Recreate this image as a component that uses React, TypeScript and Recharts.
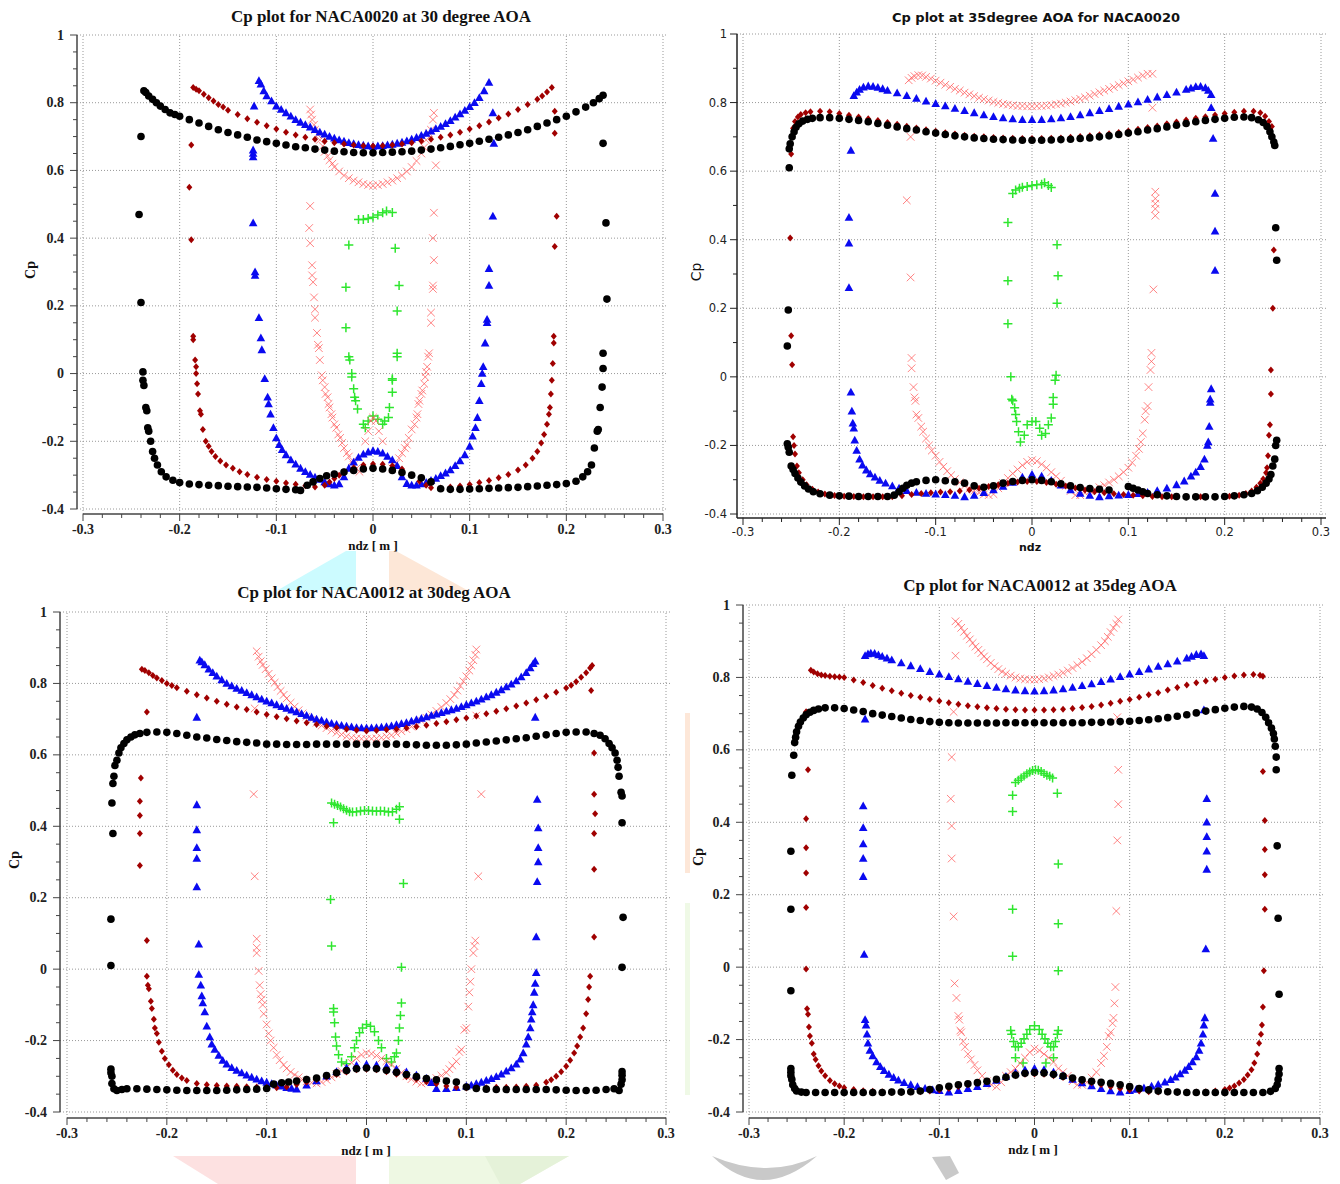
import { ScatterChart, Scatter, XAxis, YAxis, ReferenceLine } from 'recharts';

const SERIF = '"Liberation Serif", "Times New Roman", serif';
const SANS = '"DejaVu Sans", Verdana, sans-serif';

// shared axis ticks
const xTicks = [-0.3, -0.28, -0.26, -0.24, -0.22, -0.2, -0.18, -0.16, -0.14, -0.12, -0.1, -0.08, -0.06, -0.04, -0.02, 0, 0.02, 0.04, 0.06, 0.08, 0.1, 0.12, 0.14, 0.16, 0.18, 0.2, 0.22, 0.24, 0.26, 0.28, 0.3];
const yTicksFine = [-0.4, -0.35, -0.3, -0.25, -0.2, -0.15, -0.1, -0.05, 0, 0.05, 0.1, 0.15, 0.2, 0.25, 0.3, 0.35, 0.4, 0.45, 0.5, 0.55, 0.6, 0.65, 0.7, 0.75, 0.8, 0.85, 0.9, 0.95, 1];
const yTicksCoarse = [-0.4, -0.3, -0.2, -0.1, 0, 0.1, 0.2, 0.3, 0.4, 0.5, 0.6, 0.7, 0.8, 0.9, 1];
const xGrid = [-0.3, -0.2, -0.1, 0, 0.1, 0.2, 0.3];
const yGrid = [-0.4, -0.2, 0, 0.2, 0.4, 0.6, 0.8, 1];

// ---------- NACA0020, 30 deg (x, y pairs) ----------
const n20a30Black = [
  -0.237, 0.835, -0.235, 0.83, -0.232, 0.82, -0.228, 0.81, -0.224, 0.8, -0.22, 0.79, -0.215, 0.78, -0.21, 0.77, -0.205, 0.765, -0.2, 0.76, -0.19, 0.75, -0.18, 0.74, -0.17, 0.73, -0.16, 0.72, -0.15, 0.712, -0.14, 0.705, -0.13, 0.698, -0.12, 0.69, -0.11, 0.685, -0.1, 0.68, -0.09, 0.675, -0.08, 0.67, -0.07, 0.667, -0.06, 0.663, -0.05, 0.66, -0.04, 0.657, -0.03, 0.655, -0.02, 0.653, -0.01, 0.652, 0, 0.652, 0.01, 0.653, 0.02, 0.654, 0.03, 0.655, 0.04, 0.657, 0.05, 0.66, 0.06, 0.663, 0.07, 0.667, 0.08, 0.671, 0.09, 0.676, 0.1, 0.68, 0.11, 0.686, 0.12, 0.692, 0.13, 0.698, 0.14, 0.705, 0.15, 0.712, 0.16, 0.72, 0.17, 0.73, 0.18, 0.74, 0.19, 0.75, 0.2, 0.76, 0.21, 0.773, 0.22, 0.787, 0.228, 0.8, 0.234, 0.812, 0.238, 0.822,
  -0.24, 0.7, -0.242, 0.47, -0.24, 0.21, -0.238, 0.005, -0.238, -0.02, -0.237, -0.035, -0.235, -0.1, -0.234, -0.11, -0.233, -0.16, -0.232, -0.17, -0.23, -0.2, -0.228, -0.23, -0.226, -0.25, -0.223, -0.27, -0.219, -0.29, -0.214, -0.305, -0.207, -0.315, -0.2, -0.322, -0.19, -0.326, -0.18, -0.328, -0.17, -0.33, -0.16, -0.331, -0.15, -0.333, -0.14, -0.334, -0.13, -0.335, -0.12, -0.336, -0.11, -0.338, -0.1, -0.34, -0.09, -0.342, -0.08, -0.343, -0.075, -0.345,
  -0.068, -0.33, -0.062, -0.32, -0.055, -0.31, -0.048, -0.302, -0.04, -0.297, -0.03, -0.291, -0.02, -0.286, -0.01, -0.282, 0, -0.28, 0.01, -0.282, 0.02, -0.286, 0.03, -0.292, 0.04, -0.3, 0.05, -0.308, 0.06, -0.32,
  0.07, -0.34, 0.08, -0.342, 0.09, -0.342, 0.1, -0.341, 0.11, -0.34, 0.12, -0.339, 0.13, -0.338, 0.14, -0.337, 0.15, -0.336, 0.16, -0.334, 0.17, -0.332, 0.18, -0.33, 0.19, -0.328, 0.2, -0.325, 0.21, -0.318, 0.217, -0.305, 0.222, -0.29, 0.226, -0.27, 0.229, -0.22, 0.232, -0.17, 0.233, -0.165, 0.235, -0.1, 0.237, -0.04, 0.238, 0.015, 0.238, 0.06, 0.242, 0.22, 0.241, 0.445, 0.238, 0.68,
];
const n20a30Red = [
  -0.186, 0.845, -0.183, 0.84, -0.18, 0.835, -0.175, 0.825, -0.17, 0.815, -0.165, 0.805, -0.16, 0.795, -0.155, 0.787, -0.15, 0.778, -0.14, 0.765, -0.13, 0.753, -0.12, 0.742, -0.11, 0.732, -0.1, 0.722, -0.09, 0.713, -0.08, 0.705, -0.07, 0.698, -0.06, 0.692, -0.05, 0.686, -0.04, 0.682, -0.03, 0.678, -0.02, 0.675, -0.01, 0.673, 0, 0.672, 0.01, 0.673, 0.02, 0.675, 0.03, 0.678, 0.04, 0.682, 0.05, 0.687, 0.06, 0.692, 0.07, 0.698, 0.08, 0.705, 0.09, 0.713, 0.1, 0.722, 0.11, 0.732, 0.12, 0.743, 0.13, 0.755, 0.14, 0.767, 0.15, 0.78, 0.16, 0.795, 0.17, 0.81, 0.175, 0.82, 0.18, 0.832, 0.185, 0.845,
  -0.188, 0.675, -0.19, 0.55, -0.188, 0.395, -0.186, 0.11, -0.186, 0.1, -0.184, 0.04, -0.183, 0.02, -0.183, 0, -0.182, -0.03, -0.181, -0.06, -0.179, -0.11, -0.178, -0.12, -0.176, -0.165, -0.173, -0.2, -0.17, -0.215, -0.167, -0.23, -0.163, -0.245, -0.158, -0.258, -0.152, -0.27, -0.145, -0.28, -0.138, -0.29, -0.13, -0.298, -0.12, -0.306, -0.11, -0.313, -0.1, -0.318, -0.09, -0.323, -0.08, -0.327, -0.07, -0.331, -0.06, -0.335, -0.05, -0.33,
  -0.045, -0.32, -0.04, -0.31, -0.035, -0.3, -0.03, -0.29, -0.02, -0.278, -0.01, -0.27, 0, -0.267, 0.01, -0.268, 0.02, -0.272, 0.03, -0.282, 0.04, -0.3, 0.048, -0.318, 0.055, -0.33, 0.06, -0.337,
  0.07, -0.338, 0.08, -0.335, 0.09, -0.332, 0.1, -0.328, 0.11, -0.322, 0.12, -0.316, 0.13, -0.308, 0.14, -0.298, 0.15, -0.285, 0.158, -0.27, 0.165, -0.25, 0.17, -0.23, 0.174, -0.205, 0.177, -0.18, 0.18, -0.15, 0.182, -0.12, 0.183, -0.1, 0.184, -0.06, 0.185, -0.02, 0.186, 0.03, 0.187, 0.09, 0.187, 0.11, 0.188, 0.375, 0.19, 0.465, 0.188, 0.71, 0.188, 0.775,
];
const n20a30Blue = [
  -0.118, 0.865, -0.116, 0.855, -0.113, 0.835, -0.11, 0.82, -0.105, 0.805, -0.1, 0.79, -0.095, 0.78, -0.09, 0.77, -0.085, 0.76, -0.08, 0.75, -0.075, 0.742, -0.07, 0.735, -0.065, 0.728, -0.06, 0.72, -0.055, 0.713, -0.05, 0.707, -0.045, 0.7, -0.04, 0.695, -0.035, 0.69, -0.03, 0.686, -0.025, 0.682, -0.02, 0.679, -0.015, 0.676, -0.01, 0.674, -0.005, 0.672, 0, 0.671, 0.005, 0.672, 0.01, 0.673, 0.015, 0.675, 0.02, 0.677, 0.025, 0.68, 0.03, 0.683, 0.035, 0.687, 0.04, 0.692, 0.045, 0.697, 0.05, 0.703, 0.055, 0.709, 0.06, 0.716, 0.065, 0.723, 0.07, 0.73, 0.075, 0.738, 0.08, 0.747, 0.085, 0.757, 0.09, 0.767, 0.095, 0.777, 0.1, 0.788, 0.105, 0.8, 0.11, 0.815, 0.115, 0.835, 0.12, 0.86,
  -0.123, 0.79, -0.124, 0.66, -0.124, 0.65, -0.124, 0.64, -0.124, 0.445, -0.122, 0.3, -0.122, 0.29, -0.118, 0.165, -0.116, 0.105, -0.115, 0.07, -0.112, -0.015, -0.109, -0.07, -0.108, -0.09, -0.106, -0.12, -0.103, -0.16, -0.1, -0.19, -0.097, -0.21, -0.094, -0.225, -0.09, -0.24, -0.085, -0.255, -0.08, -0.268, -0.075, -0.28, -0.07, -0.29, -0.065, -0.298, -0.06, -0.306, -0.055, -0.313, -0.05, -0.32, -0.045, -0.326, -0.04, -0.33, -0.035, -0.326,
  -0.03, -0.305, -0.025, -0.28, -0.02, -0.262, -0.015, -0.248, -0.01, -0.238, -0.005, -0.232, 0, -0.228, 0.005, -0.23, 0.01, -0.235, 0.015, -0.245, 0.02, -0.255, 0.025, -0.272, 0.03, -0.305, 0.035, -0.325, 0.04, -0.33, 0.045, -0.33, 0.05, -0.326,
  0.055, -0.322, 0.06, -0.316, 0.065, -0.31, 0.07, -0.302, 0.075, -0.294, 0.08, -0.285, 0.085, -0.272, 0.09, -0.258, 0.095, -0.24, 0.1, -0.215, 0.103, -0.185, 0.106, -0.16, 0.108, -0.13, 0.11, -0.08, 0.112, -0.03, 0.113, 0, 0.114, 0.02, 0.116, 0.09, 0.118, 0.15, 0.118, 0.16, 0.12, 0.26, 0.12, 0.31, 0.124, 0.465, 0.125, 0.68, 0.124, 0.77,
];
const n20a30Cross = [
  -0.065, 0.78, -0.064, 0.765, -0.063, 0.75, -0.061, 0.735, -0.06, 0.72, -0.057, 0.705, -0.055, 0.69, -0.052, 0.672, -0.05, 0.655, -0.047, 0.642, -0.045, 0.63, -0.042, 0.62, -0.04, 0.61, -0.035, 0.597, -0.03, 0.585, -0.025, 0.577, -0.02, 0.57, -0.015, 0.565, -0.01, 0.56, -0.005, 0.557, 0, 0.555, 0.005, 0.557, 0.01, 0.56, 0.015, 0.565, 0.02, 0.57, 0.025, 0.577, 0.03, 0.585, 0.035, 0.597, 0.04, 0.61, 0.045, 0.628, 0.05, 0.65, 0.053, 0.668, 0.055, 0.69, 0.058, 0.71, 0.06, 0.72, 0.062, 0.75, 0.063, 0.77, 0.065, 0.615,
  -0.065, 0.495, -0.066, 0.43, -0.065, 0.385, -0.063, 0.32, -0.063, 0.29, -0.062, 0.27, -0.061, 0.225, -0.06, 0.19, -0.06, 0.165, -0.058, 0.12, -0.057, 0.085, -0.056, 0.075, -0.055, 0.04, -0.053, -0.005, -0.052, -0.02, -0.05, -0.04, -0.049, -0.06, -0.047, -0.07, -0.046, -0.09, -0.045, -0.1, -0.043, -0.12, -0.042, -0.13, -0.04, -0.15, -0.038, -0.16, -0.036, -0.18, -0.034, -0.19, -0.032, -0.205, -0.03, -0.22, -0.027, -0.235, -0.025, -0.245, -0.022, -0.26, -0.02, -0.27, -0.017, -0.28, -0.014, -0.29,
  -0.008, -0.2, -0.005, -0.17, -0.002, -0.14, 0, -0.13, 0.003, -0.14, 0.006, -0.17, 0.01, -0.2,
  0.063, 0.475, 0.062, 0.4, 0.063, 0.335, 0.062, 0.26, 0.062, 0.25, 0.06, 0.18, 0.06, 0.15, 0.058, 0.06, 0.057, 0.05, 0.056, 0.02, 0.055, 0.005, 0.054, -0.01, 0.053, -0.03, 0.051, -0.05, 0.05, -0.06, 0.048, -0.08, 0.047, -0.09, 0.046, -0.12, 0.045, -0.13, 0.043, -0.15, 0.04, -0.165, 0.037, -0.19, 0.035, -0.21, 0.033, -0.22, 0.03, -0.235, 0.027, -0.25, 0.024, -0.265, 0.02, -0.28,
];
const n20a30Plus = [
  -0.015, 0.455, -0.01, 0.455, -0.005, 0.458, 0, 0.462, 0.005, 0.468, 0.01, 0.475, 0.014, 0.48, 0.02, 0.476, -0.025, 0.38, 0.023, 0.37, -0.028, 0.255, 0.027, 0.26, -0.028, 0.135, 0.025, 0.185, -0.025, 0.05, -0.024, 0.04, 0.025, 0.06, 0.025, 0.05, -0.022, 0, -0.022, -0.01, 0.02, -0.015, 0.02, -0.02, -0.02, -0.045, -0.019, -0.07, -0.018, -0.08, 0.02, -0.055, -0.016, -0.105, 0.017, -0.1, 0.016, -0.13, -0.01, -0.15, -0.008, -0.16, -0.005, -0.14, 0, -0.125, 0.005, -0.135, 0.01, -0.15, 0.012, -0.14,
];

// ---------- NACA0020, 35 deg ----------
const n20a35Black = [
  -0.252, 0.665, -0.251, 0.68, -0.249, 0.7, -0.247, 0.715, -0.245, 0.728, -0.242, 0.738, -0.238, 0.746, -0.233, 0.751, -0.228, 0.754, -0.22, 0.756, -0.21, 0.756, -0.2, 0.754, -0.19, 0.751, -0.18, 0.748, -0.17, 0.744, -0.16, 0.739, -0.15, 0.734, -0.14, 0.729, -0.13, 0.724, -0.12, 0.72, -0.11, 0.715, -0.1, 0.711, -0.09, 0.707, -0.08, 0.703, -0.07, 0.7, -0.06, 0.697, -0.05, 0.695, -0.04, 0.693, -0.03, 0.692, -0.02, 0.691, -0.01, 0.69, 0, 0.69, 0.01, 0.69, 0.02, 0.691, 0.03, 0.692, 0.04, 0.693, 0.05, 0.695, 0.06, 0.697, 0.07, 0.7, 0.08, 0.703, 0.09, 0.707, 0.1, 0.711, 0.11, 0.715, 0.12, 0.72, 0.13, 0.724, 0.14, 0.729, 0.15, 0.734, 0.16, 0.739, 0.17, 0.744, 0.18, 0.748, 0.19, 0.751, 0.2, 0.754, 0.21, 0.757, 0.22, 0.758, 0.228, 0.756, 0.235, 0.75, 0.24, 0.742, 0.244, 0.73, 0.247, 0.715, 0.249, 0.7, 0.251, 0.685, 0.252, 0.675,
  -0.252, 0.61, -0.253, 0.195, -0.254, 0.09, -0.254, -0.195, -0.253, -0.205, -0.252, -0.22, -0.25, -0.26, -0.248, -0.27, -0.246, -0.282, -0.243, -0.295, -0.24, -0.307, -0.236, -0.318, -0.232, -0.327, -0.227, -0.335, -0.22, -0.341, -0.21, -0.345, -0.2, -0.347, -0.19, -0.348, -0.18, -0.349, -0.17, -0.349, -0.16, -0.349, -0.15, -0.349, -0.143, -0.345,
  -0.138, -0.335, -0.134, -0.325, -0.13, -0.316, -0.125, -0.31, -0.12, -0.306, -0.11, -0.302, -0.1, -0.3, -0.09, -0.303, -0.08, -0.306, -0.07, -0.31, -0.06, -0.318, -0.05, -0.322, -0.04, -0.318, -0.03, -0.31, -0.02, -0.305, -0.01, -0.302, 0, -0.3, 0.01, -0.302, 0.02, -0.306, 0.03, -0.312, 0.04, -0.318, 0.05, -0.323, 0.06, -0.326, 0.07, -0.328, 0.08, -0.33, 0.1, -0.32, 0.105, -0.325, 0.11, -0.33, 0.115, -0.335, 0.12, -0.34, 0.13, -0.344, 0.14, -0.347, 0.15, -0.349, 0.16, -0.35, 0.17, -0.35, 0.18, -0.35, 0.19, -0.35, 0.2, -0.349, 0.21, -0.347, 0.22, -0.344, 0.228, -0.34, 0.234, -0.332, 0.239, -0.322, 0.243, -0.31, 0.246, -0.298, 0.248, -0.285, 0.25, -0.26, 0.252, -0.24, 0.253, -0.2, 0.254, -0.185, 0.254, 0.34, 0.253, 0.435,
];
const n20a35Red = [
  -0.248, 0.725, -0.246, 0.745, -0.243, 0.758, -0.24, 0.765, -0.235, 0.77, -0.23, 0.773, -0.22, 0.775, -0.21, 0.773, -0.2, 0.768, -0.19, 0.763, -0.18, 0.758, -0.17, 0.753, -0.16, 0.748, -0.15, 0.742, -0.14, 0.737, -0.13, 0.731, -0.12, 0.726, -0.11, 0.721, -0.1, 0.716, -0.09, 0.712, -0.08, 0.708, -0.07, 0.705, -0.06, 0.702, -0.05, 0.7, -0.04, 0.698, -0.03, 0.697, -0.02, 0.696, -0.01, 0.695, 0, 0.695, 0.01, 0.695, 0.02, 0.696, 0.03, 0.697, 0.04, 0.699, 0.05, 0.701, 0.06, 0.703, 0.07, 0.706, 0.08, 0.709, 0.09, 0.713, 0.1, 0.717, 0.11, 0.722, 0.12, 0.727, 0.13, 0.732, 0.14, 0.738, 0.15, 0.743, 0.16, 0.749, 0.17, 0.754, 0.18, 0.759, 0.19, 0.764, 0.2, 0.768, 0.21, 0.772, 0.22, 0.775, 0.23, 0.775, 0.237, 0.77, 0.242, 0.76, 0.246, 0.745, 0.249, 0.73,
  -0.25, 0.65, -0.251, 0.405, -0.25, 0.12, -0.249, 0.035, -0.248, -0.175, -0.247, -0.2, -0.246, -0.225, -0.244, -0.26, -0.242, -0.28, -0.238, -0.3, -0.234, -0.315, -0.228, -0.328, -0.222, -0.336, -0.215, -0.342, -0.205, -0.346, -0.195, -0.348, -0.185, -0.349, -0.175, -0.35, -0.165, -0.35, -0.155, -0.35, -0.145, -0.35, -0.135, -0.347, -0.125, -0.343, -0.115, -0.34, -0.105, -0.338, -0.095, -0.336, -0.085, -0.335, -0.075, -0.333, -0.065, -0.33, -0.055, -0.325, -0.045, -0.32, -0.035, -0.315, -0.025, -0.31, -0.015, -0.307, -0.005, -0.305, 0.005, -0.305, 0.015, -0.308, 0.025, -0.313, 0.035, -0.318, 0.045, -0.324, 0.055, -0.33, 0.065, -0.335, 0.075, -0.338, 0.085, -0.341, 0.095, -0.343, 0.105, -0.345, 0.115, -0.347, 0.125, -0.349, 0.135, -0.35, 0.145, -0.35, 0.16, -0.35, 0.175, -0.35, 0.19, -0.35, 0.205, -0.348, 0.215, -0.345, 0.222, -0.34, 0.228, -0.333, 0.233, -0.322, 0.237, -0.31, 0.24, -0.298, 0.243, -0.28, 0.244, -0.265, 0.245, -0.23, 0.246, -0.17, 0.247, -0.14, 0.248, -0.05, 0.248, 0.02, 0.25, 0.2, 0.251, 0.37,
];
const n20a35Blue = [
  -0.185, 0.82, -0.182, 0.83, -0.179, 0.838, -0.175, 0.845, -0.17, 0.848, -0.165, 0.847, -0.16, 0.844, -0.155, 0.84, -0.15, 0.835, -0.14, 0.828, -0.13, 0.82, -0.12, 0.812, -0.11, 0.804, -0.1, 0.797, -0.09, 0.79, -0.08, 0.783, -0.07, 0.776, -0.06, 0.77, -0.05, 0.764, -0.04, 0.759, -0.03, 0.755, -0.02, 0.752, -0.01, 0.75, 0, 0.75, 0.01, 0.75, 0.02, 0.752, 0.03, 0.755, 0.04, 0.759, 0.05, 0.764, 0.06, 0.77, 0.07, 0.776, 0.08, 0.782, 0.09, 0.789, 0.1, 0.795, 0.11, 0.802, 0.12, 0.809, 0.13, 0.816, 0.14, 0.823, 0.15, 0.83, 0.16, 0.838, 0.165, 0.842, 0.17, 0.846, 0.175, 0.847, 0.18, 0.843, 0.183, 0.835, 0.186, 0.823,
  -0.188, 0.66, -0.19, 0.465, -0.19, 0.39, -0.19, 0.26, -0.188, -0.045, -0.187, -0.1, -0.186, -0.135, -0.185, -0.15, -0.184, -0.185, -0.182, -0.215, -0.179, -0.24, -0.176, -0.258, -0.172, -0.272, -0.168, -0.283, -0.163, -0.293, -0.158, -0.302, -0.152, -0.31, -0.145, -0.318, -0.138, -0.325, -0.13, -0.332, -0.12, -0.337, -0.11, -0.34, -0.1, -0.342, -0.09, -0.344, -0.08, -0.346, -0.07, -0.35, -0.06, -0.346, -0.05, -0.338, -0.04, -0.33, -0.03, -0.32, -0.02, -0.308, -0.01, -0.293, 0, -0.285, 0.01, -0.29, 0.02, -0.302, 0.03, -0.316, 0.04, -0.33, 0.05, -0.34, 0.06, -0.346, 0.07, -0.35, 0.08, -0.347, 0.09, -0.345, 0.1, -0.344, 0.11, -0.341, 0.12, -0.337, 0.13, -0.332, 0.14, -0.325, 0.15, -0.315, 0.158, -0.304, 0.165, -0.29, 0.17, -0.278, 0.175, -0.262, 0.179, -0.24, 0.182, -0.2, 0.183, -0.19, 0.184, -0.145, 0.185, -0.075, 0.185, -0.065, 0.186, -0.035, 0.19, 0.31, 0.19, 0.425, 0.19, 0.535, 0.188, 0.695, 0.186, 0.785,
];
const n20a35Cross = [
  -0.128, 0.865, -0.125, 0.872, -0.122, 0.877, -0.118, 0.88, -0.114, 0.879, -0.11, 0.875, -0.105, 0.87, -0.1, 0.864, -0.095, 0.858, -0.09, 0.852, -0.085, 0.846, -0.08, 0.84, -0.075, 0.835, -0.07, 0.829, -0.065, 0.824, -0.06, 0.819, -0.055, 0.814, -0.05, 0.81, -0.045, 0.806, -0.04, 0.802, -0.035, 0.799, -0.03, 0.796, -0.025, 0.794, -0.02, 0.792, -0.015, 0.79, -0.01, 0.79, -0.005, 0.789, 0, 0.789, 0.005, 0.79, 0.01, 0.79, 0.015, 0.791, 0.02, 0.793, 0.025, 0.795, 0.03, 0.797, 0.035, 0.8, 0.04, 0.803, 0.045, 0.807, 0.05, 0.811, 0.055, 0.815, 0.06, 0.82, 0.065, 0.825, 0.07, 0.83, 0.075, 0.835, 0.08, 0.84, 0.085, 0.845, 0.09, 0.851, 0.095, 0.856, 0.1, 0.862, 0.105, 0.867, 0.11, 0.873, 0.115, 0.879, 0.12, 0.884, 0.125, 0.884,
  0.125, 0.785, -0.126, 0.7, -0.13, 0.515, -0.126, 0.29, 0.128, 0.47, 0.128, 0.49, 0.128, 0.505, 0.128, 0.52, 0.128, 0.54, 0.126, 0.255,
  -0.125, 0.055, -0.125, 0.025, -0.123, -0.03, -0.122, -0.06, -0.121, -0.07, -0.12, -0.11, -0.118, -0.12, -0.115, -0.145, -0.113, -0.16, -0.11, -0.18, -0.107, -0.2, -0.104, -0.215, -0.1, -0.23, -0.096, -0.248, -0.092, -0.262, -0.088, -0.275, -0.084, -0.287, -0.08, -0.298, -0.075, -0.308, -0.07, -0.318, -0.065, -0.326, -0.06, -0.332, -0.055, -0.338, -0.05, -0.343, -0.045, -0.345, -0.04, -0.342,
  -0.035, -0.325, -0.03, -0.31, -0.025, -0.295, -0.02, -0.282, -0.015, -0.27, -0.01, -0.258, -0.005, -0.248, 0, -0.243, 0.005, -0.246, 0.01, -0.255, 0.015, -0.265, 0.02, -0.278, 0.025, -0.29, 0.03, -0.303, 0.035, -0.318, 0.04, -0.333, 0.045, -0.345, 0.05, -0.345, 0.055, -0.338,
  0.06, -0.333, 0.065, -0.328, 0.07, -0.322, 0.075, -0.316, 0.08, -0.308, 0.085, -0.3, 0.09, -0.29, 0.095, -0.278, 0.1, -0.265, 0.104, -0.25, 0.108, -0.23, 0.111, -0.21, 0.113, -0.19, 0.115, -0.165, 0.117, -0.125, 0.118, -0.1, 0.12, -0.085, 0.121, -0.03, 0.123, 0.02, 0.124, 0.045, 0.124, 0.07,
];
const n20a35Plus = [
  -0.02, 0.535, -0.017, 0.545, -0.013, 0.55, -0.01, 0.553, -0.005, 0.555, 0, 0.558, 0.005, 0.56, 0.01, 0.562, 0.013, 0.566, 0.017, 0.558, 0.02, 0.552, -0.025, 0.45, 0.026, 0.385, -0.025, 0.28, 0.027, 0.295, -0.025, 0.155, 0.026, 0.215, -0.022, 0, -0.021, -0.065, -0.02, -0.07, -0.018, -0.09, -0.017, -0.11, -0.016, -0.13, -0.014, -0.16, -0.012, -0.19, -0.008, -0.17, -0.005, -0.14, 0, -0.13, 0.004, -0.13, 0.008, -0.15, 0.01, -0.17, 0.014, -0.165, 0.017, -0.14, 0.02, -0.12, 0.022, -0.08, 0.022, -0.06, 0.024, -0.01, 0.025, 0.005,
];

// ---------- NACA0012, 30 deg ----------
const n12a30Black = [
  -0.252, 0.57, -0.25, 0.585, -0.248, 0.605, -0.246, 0.62, -0.243, 0.632, -0.24, 0.642, -0.236, 0.65, -0.232, 0.656, -0.227, 0.66, -0.22, 0.663, -0.21, 0.664, -0.2, 0.663, -0.19, 0.66, -0.18, 0.655, -0.17, 0.65, -0.16, 0.647, -0.15, 0.643, -0.14, 0.64, -0.13, 0.637, -0.12, 0.635, -0.11, 0.633, -0.1, 0.63, -0.09, 0.63, -0.08, 0.629, -0.07, 0.629, -0.06, 0.629, -0.05, 0.63, -0.04, 0.63, -0.03, 0.63, -0.02, 0.63, -0.01, 0.63, 0, 0.63, 0.01, 0.63, 0.02, 0.63, 0.03, 0.63, 0.04, 0.629, 0.05, 0.628, 0.06, 0.627, 0.07, 0.627, 0.08, 0.627, 0.09, 0.628, 0.1, 0.63, 0.11, 0.633, 0.12, 0.636, 0.13, 0.639, 0.14, 0.642, 0.15, 0.645, 0.16, 0.648, 0.17, 0.652, 0.18, 0.656, 0.19, 0.66, 0.2, 0.663, 0.21, 0.664, 0.22, 0.664, 0.228, 0.66, 0.234, 0.655, 0.239, 0.645, 0.243, 0.632, 0.246, 0.62, 0.249, 0.605, 0.251, 0.585, 0.252, 0.565, 0.253, 0.54, 0.255, 0.495, 0.256, 0.485, 0.256, 0.41,
  -0.253, 0.54, -0.254, 0.52, -0.255, 0.465, -0.254, 0.38, -0.256, 0.14, -0.256, 0.01, -0.256, -0.28, -0.256, -0.29, -0.255, -0.3, -0.255, -0.32, -0.253, -0.335, -0.25, -0.34, -0.245, -0.337, -0.24, -0.335, -0.23, -0.335, -0.22, -0.336, -0.21, -0.337, -0.2, -0.338, -0.19, -0.339, -0.18, -0.34, -0.17, -0.34, -0.16, -0.34, -0.15, -0.34, -0.14, -0.339, -0.13, -0.338, -0.12, -0.337, -0.11, -0.336, -0.1, -0.334,
  -0.093, -0.322, -0.085, -0.318, -0.078, -0.316, -0.07, -0.313, -0.06, -0.309, -0.05, -0.305, -0.04, -0.298, -0.03, -0.29, -0.02, -0.284, -0.01, -0.279, 0, -0.277, 0.01, -0.279, 0.02, -0.283, 0.03, -0.289, 0.04, -0.295, 0.05, -0.301, 0.06, -0.306, 0.07, -0.31, 0.08, -0.313, 0.09, -0.316,
  0.1, -0.33, 0.11, -0.334, 0.12, -0.336, 0.13, -0.337, 0.14, -0.337, 0.15, -0.337, 0.16, -0.337, 0.17, -0.337, 0.18, -0.337, 0.19, -0.338, 0.2, -0.339, 0.21, -0.34, 0.22, -0.34, 0.23, -0.339, 0.24, -0.337, 0.248, -0.335, 0.253, -0.34, 0.255, -0.322, 0.256, -0.31, 0.256, -0.297, 0.256, -0.287, 0.256, 0.005, 0.257, 0.145,
];
const n12a30Red = [
  -0.225, 0.84, -0.222, 0.836, -0.218, 0.83, -0.214, 0.822, -0.21, 0.815, -0.205, 0.808, -0.2, 0.8, -0.195, 0.794, -0.19, 0.788, -0.18, 0.778, -0.17, 0.768, -0.16, 0.759, -0.15, 0.75, -0.14, 0.742, -0.13, 0.734, -0.12, 0.727, -0.11, 0.72, -0.1, 0.713, -0.09, 0.707, -0.08, 0.701, -0.07, 0.695, -0.06, 0.69, -0.05, 0.685, -0.04, 0.68, -0.03, 0.676, -0.02, 0.672, -0.01, 0.669, 0, 0.667, 0.01, 0.668, 0.02, 0.67, 0.03, 0.672, 0.04, 0.675, 0.05, 0.679, 0.06, 0.683, 0.07, 0.688, 0.08, 0.693, 0.09, 0.698, 0.1, 0.703, 0.11, 0.709, 0.12, 0.715, 0.13, 0.722, 0.14, 0.729, 0.15, 0.737, 0.16, 0.745, 0.17, 0.754, 0.18, 0.764, 0.19, 0.775, 0.2, 0.787, 0.205, 0.795, 0.21, 0.805, 0.215, 0.817, 0.22, 0.83, 0.224, 0.843, 0.226, 0.85,
  -0.22, 0.72, -0.226, 0.535, -0.227, 0.47, -0.227, 0.43, -0.227, 0.38, -0.227, 0.29, -0.22, 0.08, -0.22, -0.02, -0.219, -0.045, -0.218, -0.055, -0.216, -0.09, -0.215, -0.11, -0.213, -0.14, -0.212, -0.165, -0.21, -0.18, -0.208, -0.205, -0.205, -0.23, -0.202, -0.25, -0.198, -0.268, -0.194, -0.283, -0.19, -0.295, -0.185, -0.305, -0.18, -0.312, -0.17, -0.32, -0.16, -0.324, -0.15, -0.326, -0.14, -0.327, -0.13, -0.328, -0.12, -0.329, -0.11, -0.33, -0.1, -0.331, -0.09, -0.332, -0.08, -0.33,
  -0.07, -0.323, -0.06, -0.317, -0.05, -0.31, -0.04, -0.303, -0.03, -0.295, -0.02, -0.288, -0.01, -0.282, 0, -0.28, 0.01, -0.282, 0.02, -0.287, 0.03, -0.294, 0.04, -0.301, 0.05, -0.308, 0.06, -0.315, 0.07, -0.321, 0.08, -0.327, 0.09, -0.331, 0.1, -0.333, 0.11, -0.332, 0.12, -0.332, 0.13, -0.331, 0.14, -0.331, 0.15, -0.33, 0.16, -0.328, 0.17, -0.325, 0.18, -0.317, 0.185, -0.31, 0.19, -0.3, 0.195, -0.287, 0.2, -0.272, 0.204, -0.255, 0.208, -0.235, 0.211, -0.215, 0.214, -0.19, 0.217, -0.165, 0.22, -0.125, 0.222, -0.085, 0.223, -0.05, 0.224, -0.02, 0.228, 0.09, 0.228, 0.28, 0.228, 0.38, 0.229, 0.435, 0.228, 0.49, 0.228, 0.605, 0.225, 0.78,
];
const n12a30Blue = [
  -0.167, 0.865, -0.165, 0.86, -0.162, 0.852, -0.158, 0.84, -0.154, 0.83, -0.15, 0.82, -0.145, 0.81, -0.14, 0.8, -0.135, 0.793, -0.13, 0.786, -0.125, 0.78, -0.12, 0.774, -0.115, 0.768, -0.11, 0.762, -0.105, 0.756, -0.1, 0.75, -0.095, 0.745, -0.09, 0.74, -0.085, 0.735, -0.08, 0.73, -0.075, 0.725, -0.07, 0.72, -0.065, 0.715, -0.06, 0.71, -0.055, 0.705, -0.05, 0.7, -0.045, 0.696, -0.04, 0.692, -0.035, 0.688, -0.03, 0.685, -0.025, 0.682, -0.02, 0.68, -0.015, 0.678, -0.01, 0.676, -0.005, 0.675, 0, 0.675, 0.005, 0.675, 0.01, 0.676, 0.015, 0.677, 0.02, 0.679, 0.025, 0.681, 0.03, 0.684, 0.035, 0.687, 0.04, 0.69, 0.045, 0.694, 0.05, 0.698, 0.055, 0.702, 0.06, 0.706, 0.065, 0.71, 0.07, 0.714, 0.075, 0.718, 0.08, 0.722, 0.085, 0.726, 0.09, 0.73, 0.095, 0.735, 0.1, 0.74, 0.105, 0.745, 0.11, 0.75, 0.115, 0.756, 0.12, 0.762, 0.125, 0.768, 0.13, 0.775, 0.135, 0.782, 0.14, 0.79, 0.145, 0.798, 0.15, 0.807, 0.155, 0.818, 0.16, 0.83, 0.164, 0.843, 0.167, 0.855, 0.169, 0.862,
  -0.17, 0.705, -0.17, 0.46, -0.17, 0.39, -0.17, 0.34, -0.17, 0.31, -0.17, 0.23, -0.168, 0.07, -0.168, -0.015, -0.166, -0.045, -0.165, -0.075, -0.164, -0.095, -0.162, -0.12, -0.16, -0.16, -0.157, -0.19, -0.155, -0.21, -0.152, -0.225, -0.148, -0.242, -0.144, -0.256, -0.14, -0.266, -0.135, -0.276, -0.13, -0.284, -0.125, -0.291, -0.12, -0.297, -0.115, -0.303, -0.11, -0.308, -0.105, -0.313, -0.1, -0.317, -0.095, -0.321, -0.09, -0.325, -0.085, -0.328, -0.08, -0.332, -0.075, -0.334, -0.07, -0.336,
  -0.06, -0.325, -0.05, -0.313, -0.04, -0.3, -0.03, -0.287, -0.02, -0.277, -0.01, -0.27, 0, -0.267, 0.01, -0.269, 0.02, -0.273, 0.03, -0.28, 0.04, -0.288, 0.05, -0.297, 0.06, -0.306, 0.065, -0.318,
  0.07, -0.335, 0.08, -0.335, 0.09, -0.332, 0.1, -0.328, 0.105, -0.325, 0.11, -0.321, 0.115, -0.317, 0.12, -0.312, 0.125, -0.307, 0.13, -0.301, 0.135, -0.294, 0.14, -0.286, 0.145, -0.277, 0.15, -0.266, 0.154, -0.252, 0.157, -0.235, 0.16, -0.21, 0.162, -0.19, 0.164, -0.165, 0.165, -0.14, 0.166, -0.12, 0.167, -0.1, 0.168, -0.065, 0.169, -0.04, 0.17, -0.01, 0.17, 0.09, 0.171, 0.245, 0.172, 0.3, 0.172, 0.34, 0.172, 0.395, 0.171, 0.475, 0.169, 0.705,
];
const n12a30Cross = [
  -0.11, 0.89, -0.108, 0.875, -0.106, 0.862, -0.104, 0.852, -0.101, 0.84, -0.098, 0.827, -0.095, 0.814, -0.092, 0.802, -0.089, 0.79, -0.086, 0.779, -0.083, 0.768, -0.08, 0.758, -0.076, 0.746, -0.072, 0.735, -0.068, 0.725, -0.064, 0.716, -0.06, 0.707, -0.055, 0.698, -0.05, 0.69, -0.045, 0.682, -0.04, 0.675, -0.035, 0.668, -0.03, 0.662, -0.025, 0.657, -0.02, 0.652, -0.015, 0.648, -0.01, 0.646, -0.005, 0.645, 0, 0.644, 0.005, 0.645, 0.01, 0.646, 0.015, 0.648, 0.02, 0.651, 0.025, 0.655, 0.03, 0.66, 0.035, 0.666, 0.04, 0.672, 0.045, 0.679, 0.05, 0.687, 0.055, 0.695, 0.06, 0.704, 0.065, 0.713, 0.07, 0.723, 0.075, 0.734, 0.08, 0.745, 0.084, 0.756, 0.088, 0.768, 0.091, 0.78, 0.094, 0.793, 0.097, 0.806, 0.1, 0.82, 0.103, 0.836, 0.105, 0.85, 0.107, 0.865, 0.109, 0.88, 0.11, 0.895,
  -0.112, 0.73, 0.11, 0.71, -0.113, 0.49, -0.112, 0.26, 0.115, 0.49, 0.112, 0.26,
  -0.11, 0.085, -0.11, 0.06, -0.11, 0.045, -0.108, -0.005, -0.107, -0.045, -0.106, -0.07, -0.105, -0.085, -0.104, -0.1, -0.103, -0.125, -0.1, -0.155, -0.098, -0.18, -0.096, -0.2, -0.093, -0.22, -0.09, -0.24, -0.087, -0.255, -0.083, -0.268, -0.08, -0.278, -0.076, -0.288, -0.072, -0.296, -0.068, -0.303, -0.064, -0.309, -0.06, -0.314, -0.055, -0.318, -0.05, -0.32,
  -0.045, -0.316, -0.04, -0.31, -0.035, -0.303, -0.03, -0.294, -0.025, -0.285, -0.02, -0.275, -0.015, -0.262, -0.01, -0.25, -0.005, -0.24, 0, -0.235, 0.005, -0.237, 0.01, -0.242, 0.015, -0.25, 0.02, -0.258, 0.025, -0.268, 0.03, -0.279, 0.035, -0.29, 0.04, -0.3, 0.045, -0.308, 0.05, -0.315, 0.055, -0.32,
  0.06, -0.316, 0.065, -0.311, 0.07, -0.305, 0.075, -0.298, 0.08, -0.29, 0.083, -0.28, 0.086, -0.27, 0.09, -0.258, 0.093, -0.232, 0.095, -0.225, 0.098, -0.17, 0.1, -0.165, 0.102, -0.105, 0.103, -0.065, 0.104, -0.035, 0.105, 0, 0.107, 0.045, 0.108, 0.065, 0.109, 0.08,
];
const n12a30Plus = [
  -0.035, 0.465, -0.032, 0.462, -0.029, 0.458, -0.026, 0.454, -0.023, 0.449, -0.02, 0.445, -0.017, 0.441, -0.014, 0.44, -0.01, 0.441, -0.006, 0.443, -0.002, 0.444, 0.002, 0.444, 0.006, 0.443, 0.01, 0.442, 0.014, 0.443, 0.018, 0.442, 0.022, 0.44, 0.026, 0.441, 0.03, 0.448, 0.033, 0.455, -0.033, 0.41, 0.033, 0.42, -0.036, 0.195, 0.037, 0.24, -0.035, 0.065, 0.035, 0.005,
  -0.033, -0.11, -0.033, -0.12, -0.032, -0.15, -0.031, -0.19, -0.03, -0.215, -0.028, -0.24, -0.025, -0.26, -0.02, -0.265, -0.015, -0.245, -0.012, -0.22, -0.01, -0.2, -0.007, -0.178, -0.004, -0.165, 0, -0.155, 0.004, -0.16, 0.008, -0.175, 0.012, -0.2, 0.015, -0.22, 0.02, -0.25, 0.025, -0.26, 0.028, -0.245, 0.03, -0.235, 0.032, -0.2, 0.033, -0.165, 0.034, -0.13, 0.035, -0.095,
];

// ---------- NACA0012, 35 deg ----------
const n12a35Black = [
  -0.252, 0.62, -0.251, 0.635, -0.25, 0.65, -0.248, 0.665, -0.246, 0.677, -0.243, 0.688, -0.24, 0.697, -0.236, 0.704, -0.232, 0.709, -0.227, 0.713, -0.22, 0.716, -0.21, 0.716, -0.2, 0.714, -0.19, 0.71, -0.18, 0.706, -0.17, 0.7, -0.16, 0.696, -0.15, 0.692, -0.14, 0.688, -0.13, 0.684, -0.12, 0.681, -0.11, 0.678, -0.1, 0.676, -0.09, 0.675, -0.08, 0.674, -0.07, 0.674, -0.06, 0.674, -0.05, 0.674, -0.04, 0.674, -0.03, 0.675, -0.02, 0.675, -0.01, 0.675, 0, 0.675, 0.01, 0.675, 0.02, 0.675, 0.03, 0.675, 0.04, 0.675, 0.05, 0.675, 0.06, 0.676, 0.07, 0.676, 0.08, 0.677, 0.09, 0.678, 0.1, 0.679, 0.11, 0.681, 0.12, 0.683, 0.13, 0.686, 0.14, 0.689, 0.15, 0.693, 0.16, 0.697, 0.17, 0.702, 0.18, 0.707, 0.19, 0.711, 0.2, 0.715, 0.21, 0.718, 0.22, 0.72, 0.228, 0.718, 0.234, 0.713, 0.239, 0.703, 0.243, 0.69, 0.246, 0.675, 0.249, 0.66, 0.251, 0.645, 0.252, 0.63, 0.253, 0.61, 0.254, 0.58, 0.254, 0.545,
  -0.253, 0.585, -0.255, 0.53, -0.256, 0.32, -0.256, 0.16, -0.256, -0.065, -0.256, -0.28, -0.256, -0.29, -0.256, -0.3, -0.255, -0.31, -0.254, -0.325, -0.252, -0.335, -0.25, -0.342, -0.245, -0.345, -0.24, -0.346, -0.23, -0.346, -0.22, -0.346, -0.21, -0.346, -0.2, -0.346, -0.19, -0.346, -0.18, -0.346, -0.17, -0.346, -0.16, -0.346, -0.15, -0.345, -0.14, -0.345, -0.13, -0.344, -0.12, -0.342, -0.11, -0.338, -0.1, -0.333, -0.09, -0.329, -0.08, -0.325, -0.07, -0.322, -0.06, -0.319, -0.05, -0.315, -0.04, -0.31, -0.03, -0.304, -0.02, -0.298, -0.01, -0.293, 0, -0.291, 0.01, -0.292, 0.02, -0.296, 0.03, -0.301, 0.04, -0.306, 0.05, -0.311, 0.06, -0.315, 0.07, -0.318, 0.08, -0.321, 0.09, -0.325, 0.1, -0.33, 0.11, -0.335, 0.12, -0.339, 0.13, -0.342, 0.14, -0.344, 0.15, -0.345, 0.16, -0.346, 0.17, -0.346, 0.18, -0.346, 0.19, -0.346, 0.2, -0.346, 0.21, -0.346, 0.22, -0.346, 0.23, -0.346, 0.24, -0.346, 0.248, -0.343, 0.253, -0.335, 0.255, -0.325, 0.256, -0.31, 0.257, -0.295, 0.257, -0.28, 0.257, -0.075, 0.256, 0.135, 0.255, 0.335,
];
const n12a35Red = [
  -0.235, 0.82, -0.232, 0.815, -0.228, 0.81, -0.224, 0.807, -0.22, 0.805, -0.215, 0.803, -0.21, 0.802, -0.205, 0.801, -0.2, 0.8, -0.19, 0.793, -0.18, 0.786, -0.17, 0.778, -0.16, 0.77, -0.15, 0.763, -0.14, 0.756, -0.13, 0.75, -0.12, 0.745, -0.11, 0.74, -0.1, 0.735, -0.09, 0.73, -0.08, 0.726, -0.07, 0.722, -0.06, 0.719, -0.05, 0.716, -0.04, 0.714, -0.03, 0.712, -0.02, 0.711, -0.01, 0.71, 0, 0.71, 0.01, 0.71, 0.02, 0.711, 0.03, 0.712, 0.04, 0.714, 0.05, 0.717, 0.06, 0.72, 0.07, 0.724, 0.08, 0.729, 0.09, 0.734, 0.1, 0.739, 0.11, 0.745, 0.12, 0.752, 0.13, 0.758, 0.14, 0.765, 0.15, 0.772, 0.16, 0.779, 0.17, 0.785, 0.18, 0.79, 0.19, 0.795, 0.2, 0.8, 0.21, 0.804, 0.22, 0.807, 0.23, 0.808, 0.237, 0.806, 0.24, 0.803,
  -0.24, 0.705, -0.238, 0.545, -0.24, 0.41, -0.24, 0.33, -0.24, 0.26, -0.24, 0.165, -0.24, -0.005, -0.239, -0.115, -0.238, -0.13, -0.237, -0.165, -0.236, -0.19, -0.234, -0.21, -0.232, -0.24, -0.23, -0.255, -0.227, -0.272, -0.224, -0.287, -0.22, -0.3, -0.215, -0.313, -0.21, -0.322, -0.205, -0.328, -0.2, -0.333, -0.19, -0.338, -0.18, -0.341, -0.17, -0.343, -0.16, -0.344, -0.15, -0.345, -0.14, -0.345, -0.13, -0.345, -0.12, -0.344, -0.11, -0.342, -0.1, -0.339, -0.09, -0.335, -0.08, -0.33, -0.07, -0.325, -0.06, -0.32, -0.05, -0.315, -0.04, -0.31, -0.03, -0.305, -0.02, -0.3, -0.01, -0.296, 0, -0.295, 0.01, -0.296, 0.02, -0.3, 0.03, -0.305, 0.04, -0.31, 0.05, -0.315, 0.06, -0.32, 0.07, -0.325, 0.08, -0.33, 0.09, -0.335, 0.1, -0.339, 0.11, -0.342, 0.12, -0.344, 0.13, -0.345, 0.14, -0.345, 0.15, -0.345, 0.16, -0.345, 0.17, -0.345, 0.18, -0.344, 0.19, -0.342, 0.2, -0.338, 0.205, -0.334, 0.21, -0.328, 0.215, -0.32, 0.22, -0.31, 0.224, -0.298, 0.228, -0.283, 0.231, -0.265, 0.234, -0.24, 0.236, -0.21, 0.238, -0.185, 0.239, -0.16, 0.24, -0.11, 0.241, -0.01, 0.242, 0.16, 0.242, 0.255, 0.242, 0.325, 0.242, 0.405, 0.24, 0.54,
];
const n12a35Blue = [
  -0.178, 0.86, -0.175, 0.865, -0.172, 0.867, -0.168, 0.866, -0.164, 0.862, -0.16, 0.858, -0.155, 0.853, -0.15, 0.848, -0.14, 0.84, -0.13, 0.832, -0.12, 0.824, -0.11, 0.816, -0.1, 0.809, -0.09, 0.802, -0.08, 0.796, -0.07, 0.789, -0.06, 0.783, -0.05, 0.777, -0.04, 0.772, -0.03, 0.768, -0.02, 0.765, -0.01, 0.763, 0, 0.762, 0.01, 0.763, 0.02, 0.765, 0.03, 0.768, 0.04, 0.772, 0.05, 0.777, 0.06, 0.782, 0.07, 0.788, 0.08, 0.795, 0.09, 0.802, 0.1, 0.809, 0.11, 0.816, 0.12, 0.823, 0.13, 0.83, 0.14, 0.837, 0.15, 0.845, 0.16, 0.853, 0.165, 0.858, 0.17, 0.863, 0.175, 0.865, 0.178, 0.86,
  -0.178, 0.685, 0.178, 0.71,
  -0.18, 0.445, -0.18, 0.385, -0.18, 0.34, -0.18, 0.3, -0.18, 0.25, -0.179, 0.035, -0.178, -0.145, -0.177, -0.16, -0.176, -0.185, -0.175, -0.21, -0.173, -0.23, -0.17, -0.245, -0.166, -0.262, -0.162, -0.275, -0.158, -0.286, -0.153, -0.296, -0.148, -0.305, -0.143, -0.312, -0.137, -0.319, -0.13, -0.325, -0.123, -0.33, -0.115, -0.335, -0.107, -0.339, -0.1, -0.341, -0.09, -0.345, -0.08, -0.341, -0.07, -0.336, -0.06, -0.33, -0.05, -0.322, -0.04, -0.313, -0.03, -0.302, -0.02, -0.292, -0.01, -0.284, 0, -0.28, 0.01, -0.283, 0.02, -0.29, 0.03, -0.3, 0.04, -0.31, 0.05, -0.32, 0.06, -0.328, 0.07, -0.336, 0.08, -0.342, 0.09, -0.345, 0.1, -0.341, 0.107, -0.338, 0.115, -0.334, 0.123, -0.329, 0.13, -0.324, 0.137, -0.318, 0.143, -0.311, 0.148, -0.304, 0.153, -0.295, 0.158, -0.285, 0.162, -0.275, 0.166, -0.262, 0.17, -0.248, 0.173, -0.23, 0.175, -0.21, 0.177, -0.185, 0.178, -0.16, 0.179, -0.14, 0.18, 0.05, 0.181, 0.27, 0.181, 0.32, 0.181, 0.36, 0.181, 0.4, 0.181, 0.465,
];
const n12a35Cross = [
  -0.083, 0.955, -0.08, 0.948, -0.077, 0.937, -0.074, 0.926, -0.071, 0.915, -0.068, 0.905, -0.065, 0.895, -0.062, 0.885, -0.059, 0.876, -0.056, 0.867, -0.053, 0.858, -0.05, 0.85, -0.046, 0.84, -0.042, 0.831, -0.038, 0.823, -0.034, 0.816, -0.03, 0.81, -0.025, 0.805, -0.02, 0.8, -0.015, 0.797, -0.01, 0.795, -0.005, 0.794, 0, 0.794, 0.005, 0.795, 0.01, 0.797, 0.015, 0.8, 0.02, 0.804, 0.025, 0.808, 0.03, 0.813, 0.035, 0.819, 0.04, 0.826, 0.045, 0.834, 0.05, 0.843, 0.055, 0.853, 0.06, 0.864, 0.065, 0.876, 0.07, 0.889, 0.074, 0.9, 0.077, 0.912, 0.08, 0.925, 0.083, 0.937, 0.086, 0.948, 0.088, 0.96,
  -0.083, 0.86, -0.085, 0.705, 0.087, 0.69, -0.087, 0.58, 0.088, 0.545, -0.088, 0.465, 0.088, 0.45, -0.087, 0.39, 0.087, 0.35, -0.087, 0.3, -0.085, 0.14, 0.086, 0.155,
  -0.084, -0.045, -0.082, -0.085, -0.08, -0.135, -0.079, -0.145, -0.078, -0.175, -0.077, -0.18, -0.075, -0.205, -0.073, -0.22, -0.07, -0.24, -0.067, -0.255, -0.063, -0.27, -0.06, -0.285, -0.055, -0.3, -0.05, -0.315, -0.045, -0.325, -0.04, -0.33,
  -0.035, -0.318, -0.03, -0.3, -0.025, -0.29, -0.02, -0.28, -0.015, -0.265, -0.01, -0.25, -0.005, -0.235, 0, -0.225, 0.005, -0.23, 0.01, -0.24, 0.015, -0.25, 0.02, -0.262, 0.025, -0.28, 0.03, -0.29, 0.035, -0.3, 0.04, -0.315, 0.045, -0.325, 0.05, -0.325,
  0.055, -0.318, 0.06, -0.305, 0.065, -0.29, 0.07, -0.265, 0.073, -0.245, 0.076, -0.22, 0.078, -0.19, 0.08, -0.18, 0.082, -0.155, 0.083, -0.14, 0.084, -0.1, 0.085, -0.055,
];
const n12a35Plus = [
  -0.02, 0.51, -0.017, 0.516, -0.014, 0.522, -0.011, 0.528, -0.008, 0.534, -0.005, 0.539, -0.002, 0.543, 0.001, 0.545, 0.004, 0.544, 0.007, 0.54, 0.01, 0.535, 0.013, 0.53, 0.016, 0.527, 0.019, 0.522, -0.023, 0.475, -0.023, 0.43, 0.024, 0.48, 0.025, 0.285, -0.023, 0.16, 0.025, 0.12, -0.023, 0.03, 0.025, -0.01,
  -0.025, -0.175, -0.024, -0.185, -0.022, -0.205, -0.02, -0.22, -0.017, -0.22, -0.014, -0.21, -0.011, -0.198, -0.008, -0.185, -0.005, -0.172, 0, -0.162, 0.005, -0.172, 0.008, -0.185, 0.011, -0.198, 0.014, -0.21, 0.017, -0.22, 0.02, -0.22, 0.022, -0.205, 0.024, -0.185, 0.025, -0.175, -0.02, -0.25, 0.02, -0.25, -0.012, -0.265, 0.012, -0.265,
];

const pts = (a: number[]) => {
  const out: { x: number; y: number }[] = [];
  for (let i = 0; i < a.length; i += 2) out.push({ x: a[i], y: a[i + 1] });
  return out;
};

const fmt = (v: number) => String(Number(v.toFixed(1)));
const onStep = (v: number, per: number) => Math.abs(v * per - Math.round(v * per)) < 1e-6;

// marker shapes
const Dot = (p: any) => <circle cx={p.cx} cy={p.cy} r={3.8} fill="#000" />;
const Diamond = (p: any) => (
  <path d={`M${p.cx},${p.cy - 3.5}L${p.cx + 3},${p.cy}L${p.cx},${p.cy + 3.5}L${p.cx - 3},${p.cy}Z`} fill="#a00000" />
);
const Tri = (p: any) => (
  <path d={`M${p.cx},${p.cy - 4.5}L${p.cx + 4.3},${p.cy + 3.3}L${p.cx - 4.3},${p.cy + 3.3}Z`} fill="#0a0af0" />
);
const Cross = (p: any) => (
  <path d={`M${p.cx - 3.8},${p.cy - 3.8}L${p.cx + 3.8},${p.cy + 3.8}M${p.cx - 3.8},${p.cy + 3.8}L${p.cx + 3.8},${p.cy - 3.8}`} stroke="#ff5a5a" strokeOpacity={0.75} strokeWidth={1} fill="none" />
);
const Plus = (p: any) => (
  <path d={`M${p.cx - 4.5},${p.cy}L${p.cx + 4.5},${p.cy}M${p.cx},${p.cy - 4.5}L${p.cx},${p.cy + 4.5}`} stroke="#2ee62e" strokeWidth={1.5} fill="none" />
);

type Cfg = {
  axL: number; axR: number; axT: number; axB: number;
  padL: number; padR: number; padB: number;
  sans: boolean; yTicks: number[];
  k: number[]; r: number[]; b: number[]; x: number[]; g: number[];
};

const panels: Cfg[] = [
  { axL: 77, axR: 668, axT: 35, axB: 514, padL: 6, padR: 5, padB: 5, sans: false, yTicks: yTicksFine,
    k: n20a30Black, r: n20a30Red, b: n20a30Blue, x: n20a30Cross, g: n20a30Plus },
  { axL: 737, axR: 1326, axT: 34, axB: 518, padL: 6, padR: 5, padB: 4, sans: true, yTicks: yTicksCoarse,
    k: n20a35Black, r: n20a35Red, b: n20a35Blue, x: n20a35Cross, g: n20a35Plus },
  { axL: 60, axR: 671, axT: 612, axB: 1118, padL: 7, padR: 5, padB: 6, sans: false, yTicks: yTicksFine,
    k: n12a30Black, r: n12a30Red, b: n12a30Blue, x: n12a30Cross, g: n12a30Plus },
  { axL: 743, axR: 1325, axT: 605, axB: 1118, padL: 6, padR: 5, padB: 6, sans: false, yTicks: yTicksFine,
    k: n12a35Black, r: n12a35Red, b: n12a35Blue, x: n12a35Cross, g: n12a35Plus },
];

const Panel = ({ c }: { c: Cfg }) => {
  const YW = 70;
  const XH = 50;
  const W = c.axR - c.axL + YW + 10;
  const H = c.axB - c.axT + 10 + XH;
  const family = c.sans ? SANS : SERIF;
  const weight = c.sans ? 'normal' : 'bold';
  const size = c.sans ? 11.5 : 14;
  const axisColor = c.sans ? '#222' : '#444';
  // the serif panels draw split axes: x axis from -0.3 to 0.3, y axis from -0.4 to 1
  const spanX = c.axR - c.padR - (c.axL + c.padL);
  const spanY = c.axB - c.padB - c.axT;

  const XTick = (p: any) => {
    const v = p.payload.value;
    const major = onStep(v, 10);
    return (
      <g>
        {!c.sans && v === -0.3 && (
          <line x1={p.x} x2={p.x + spanX} y1={p.y} y2={p.y} stroke={axisColor} strokeWidth={1.5} />
        )}
        <line x1={p.x} x2={p.x} y1={p.y} y2={p.y + (major ? 7 : 4)} stroke={axisColor} strokeWidth={1} />
        {major && (
          <text x={p.x} y={p.y + (c.sans ? 14 : 15)} textAnchor="middle" dominantBaseline="central"
            fontFamily={family} fontWeight={weight} fontSize={size} fill="#222">{fmt(v)}</text>
        )}
      </g>
    );
  };
  const YTick = (p: any) => {
    const v = p.payload.value;
    const major = onStep(v, 5);
    const yx = c.sans ? p.x : p.x;
    return (
      <g>
        {!c.sans && v === -0.4 && (
          <line x1={yx} x2={yx} y1={p.y} y2={p.y - spanY} stroke={axisColor} strokeWidth={1.5} />
        )}
        <line x1={yx} x2={yx - (major ? 7 : 4)} y1={p.y} y2={p.y} stroke={axisColor} strokeWidth={1} />
        {major && (
          <text x={yx - (c.sans ? 10 : 13)} y={p.y} textAnchor="end" dominantBaseline="central"
            fontFamily={family} fontWeight={weight} fontSize={size} fill="#222">{fmt(v)}</text>
        )}
      </g>
    );
  };

  return (
    <div style={{ position: 'absolute', left: c.axL - YW, top: c.axT - 10 }}>
      <ScatterChart width={W} height={H} margin={{ top: 10, right: 10, bottom: 0, left: 0 }}>
        <XAxis type="number" dataKey="x" domain={[-0.3, 0.3]} ticks={xTicks} interval={0} allowDataOverflow
          padding={{ left: c.padL, right: c.padR }} height={XH} tickSize={0} tickMargin={0} tickLine={false}
          axisLine={c.sans ? { stroke: axisColor, strokeWidth: 1.5 } : false} tick={XTick} />
        <YAxis type="number" dataKey="y" domain={[-0.4, 1]} ticks={c.yTicks} interval={0} allowDataOverflow
          padding={{ top: 0, bottom: c.padB }} width={YW} tickSize={0} tickMargin={0} tickLine={false}
          axisLine={c.sans ? { stroke: axisColor, strokeWidth: 1.5 } : false} tick={YTick} />
        {xGrid.map((v) => (
          <ReferenceLine key={'gx' + v} x={v} stroke="#999" strokeDasharray="1 2" />
        ))}
        {yGrid.map((v) => (
          <ReferenceLine key={'gy' + v} y={v} stroke="#999" strokeDasharray="1 2" />
        ))}
        <Scatter data={pts(c.g)} shape={Plus} isAnimationActive={false} />
        <Scatter data={pts(c.x)} shape={Cross} isAnimationActive={false} />
        <Scatter data={pts(c.b)} shape={Tri} isAnimationActive={false} />
        <Scatter data={pts(c.r)} shape={Diamond} isAnimationActive={false} />
        <Scatter data={pts(c.k)} shape={Dot} isAnimationActive={false} />
      </ScatterChart>
    </div>
  );
};

export default function App() {
  const serifT = { fontFamily: SERIF, fontWeight: 'bold' as const, fill: '#111' };
  const sansT = { fontFamily: SANS, fontWeight: 'bold' as const, fill: '#111' };
  return (
    <div style={{ position: 'absolute', left: 0, top: 0, width: 1340, height: 1184, background: '#fff', overflow: 'hidden' }}>
      {/* faint watermark fragments behind the plots */}
      <svg width={1340} height={1184} style={{ position: 'absolute', left: 0, top: 0 }}>
        <polygon points="278,590 346,551 356,551 356,590" fill="#ccfbff" />
        <polygon points="389,551 396,551 467,590 389,590" fill="#fde7d7" />
        <polygon points="173,1156 356,1156 356,1184 218,1184" fill="#fde1e1" />
        <polygon points="389,1156 569,1156 520,1184 389,1184" fill="#eef8e3" />
        <polygon points="485,1156 569,1156 520,1184 500,1184" fill="#e5f2d9" />
        <rect x={685} y={713} width={5} height={160} fill="#fde7d8" />
        <rect x={685} y={903} width={5} height={192} fill="#eff9e6" />
        <path d="M712,1156 Q762,1204 817,1156 Q768,1180 712,1156 Z" fill="#c9c9c9" />
        <polygon points="932,1157 950,1156 959,1173 946,1180" fill="#c9c9c9" />
      </svg>
      {panels.map((c, i) => (
        <Panel key={i} c={c} />
      ))}
      <svg width={1340} height={1184} style={{ position: 'absolute', left: 0, top: 0, pointerEvents: 'none' }}>
        <text x={381} y={16} textAnchor="middle" dominantBaseline="central" fontSize={17} {...serifT}>Cp plot for NACA0020 at 30 degree AOA</text>
        <text x={373} y={545} textAnchor="middle" dominantBaseline="central" fontSize={13} {...serifT}>ndz [ m ]</text>
        <text x={30} y={270} textAnchor="middle" dominantBaseline="central" fontSize={14} transform="rotate(-90 30 270)" {...serifT}>Cp</text>

        <text x={1036} y={17} textAnchor="middle" dominantBaseline="central" fontSize={13} {...sansT}>Cp plot at 35degree AOA for NACA0020</text>
        <text x={1030} y={547} textAnchor="middle" dominantBaseline="central" fontSize={11} {...sansT}>ndz</text>
        <text x={696} y={272} textAnchor="middle" dominantBaseline="central" fontSize={14} transform="rotate(-90 696 272)" fontFamily={SANS} fill="#111">Cp</text>

        <text x={374} y={592} textAnchor="middle" dominantBaseline="central" fontSize={17} {...serifT}>Cp plot for NACA0012 at 30deg AOA</text>
        <text x={366} y={1150} textAnchor="middle" dominantBaseline="central" fontSize={13} {...serifT}>ndz [ m ]</text>
        <text x={14} y={860} textAnchor="middle" dominantBaseline="central" fontSize={14} transform="rotate(-90 14 860)" {...serifT}>Cp</text>

        <text x={1040} y={585} textAnchor="middle" dominantBaseline="central" fontSize={17} {...serifT}>Cp plot for NACA0012 at 35deg AOA</text>
        <text x={1033} y={1149} textAnchor="middle" dominantBaseline="central" fontSize={13} {...serifT}>ndz [ m ]</text>
        <text x={698} y={857} textAnchor="middle" dominantBaseline="central" fontSize={14} transform="rotate(-90 698 857)" {...serifT}>Cp</text>
      </svg>
    </div>
  );
}
